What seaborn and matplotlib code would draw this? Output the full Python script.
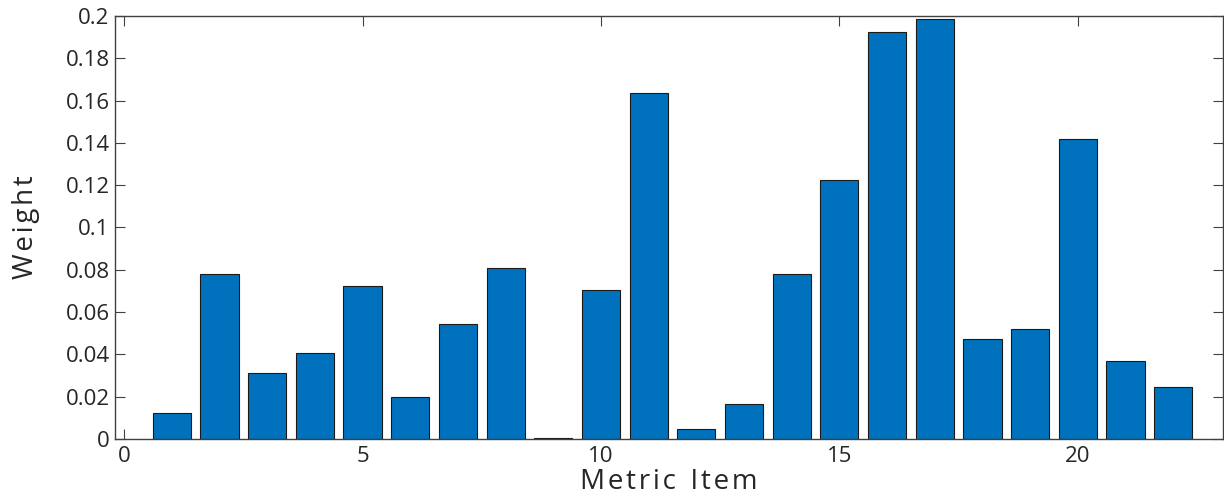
import matplotlib
matplotlib.use("Agg")
import matplotlib.pyplot as plt
import seaborn as sns
import numpy as np
import pandas as pd


items = list(range(1, 23))
weights = [
    0.0123, 0.0780, 0.0312, 0.0407, 0.0723, 0.0199, 0.0544, 0.0809,
    0.0005, 0.0705, 0.1636, 0.0047, 0.0165, 0.0780, 0.1225, 0.1924,
    0.1986, 0.0473, 0.0520, 0.1418, 0.0369, 0.0246,
]
x_ticks = [0, 5, 10, 15, 20]
y_ticks = [0, 0.02, 0.04, 0.06, 0.08, 0.1, 0.12, 0.14, 0.16, 0.18, 0.2]
y_tick_labels = ["0", "0.02", "0.04", "0.06", "0.08", "0.1",
                 "0.12", "0.14", "0.16", "0.18", "0.2"]
x_label = "Metric Item"
y_label = "Weight"

BAR_COLOR = "#0072BD"
AXIS_COLOR = "#404040"


def spaced(text):
    # loose letter spacing like the original figure
    return "  ".join("\u200a".join(word) for word in text.split(" "))


def main():
    sns.set_style("white")
    plt.rcParams["font.family"] = ["Open Sans", "DejaVu Sans"]

    df = pd.DataFrame({"item": items, "weight": weights})

    fig = plt.figure(figsize=(12.24, 4.98), dpi=100)
    ax = fig.add_axes([0.094, 0.1185, 0.905, 0.8495])

    sns.barplot(
        data=df,
        x="item",
        y="weight",
        native_scale=True,
        color=BAR_COLOR,
        saturation=1,
        edgecolor="#1a1a1a",
        linewidth=0.8,
        width=0.8,
        ax=ax,
    )

    ax.set_xlim(-0.19, 23.04)
    ax.set_ylim(0, 0.2)
    ax.set_xticks(x_ticks)
    ax.set_xticklabels([str(t) for t in x_ticks])
    ax.set_yticks(y_ticks)
    ax.set_yticklabels(y_tick_labels)

    for side in ["left", "right", "top", "bottom"]:
        ax.spines[side].set_visible(True)
        ax.spines[side].set_color(AXIS_COLOR)
        ax.spines[side].set_linewidth(1.0)

    ax.tick_params(
        axis="both", direction="in", length=7, width=0.8,
        colors=AXIS_COLOR, labelcolor="#262626", labelsize=16,
        top=True, right=True, bottom=True, left=True,
    )
    ax.tick_params(axis="x", pad=5)
    ax.tick_params(axis="y", pad=4)

    ax.set_xlabel(spaced(x_label), fontsize=20, color="#262626", labelpad=1)
    ax.set_ylabel(spaced(y_label), fontsize=20, color="#262626", labelpad=18)
    ax.grid(False)

    fig.savefig("out.png", dpi=100)
    plt.close(fig)


if __name__ == "__main__":
    main()
